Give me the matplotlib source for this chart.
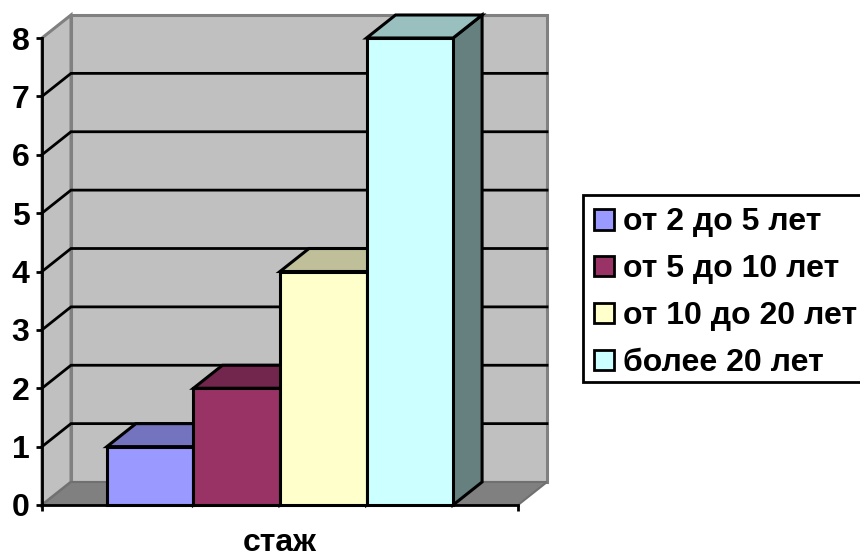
import matplotlib
matplotlib.use("Agg")
import matplotlib.pyplot as plt
from matplotlib.patches import Patch, Rectangle
from matplotlib.colors import to_rgb

plt.rcParams['font.family'] = ['Liberation Sans', 'DejaVu Sans']
plt.rcParams['font.weight'] = 'bold'

# data
names = ['от 2 до 5 лет', 'от 5 до 10 лет', 'от 10 до 20 лет', 'более 20 лет']
values = [1, 2, 4, 8]
colors = ['#9999FF', '#993366', '#FFFFCC', '#CCFFFF']
y_ticks = [0, 1, 2, 3, 4, 5, 6, 7, 8]
category = 'стаж'

W, H = 860, 552
fig = plt.figure(figsize=(W / 100, H / 100), dpi=100)
ax = fig.add_axes([42 / W, (H - 505) / H, 476 / W, 467 / H])
ax.set_xlim(0, 1)
ax.set_ylim(0, 8)

# depth of the fake 3d box, in data units
dx = 29 / 476
dy = 23 / 467 * 8
gap = 1.5
bw = 1 / (len(values) + gap)
start = gap / 2 * bw


def shade(c, k):
    return tuple(v * k for v in to_rgb(c))


def poly(xs, ys, fc, ec, lw, z):
    ax.fill(xs, ys, facecolor=fc, edgecolor=ec, linewidth=lw, zorder=z,
            clip_on=False, joinstyle='miter')


# walls and floor
poly([dx, 1 + dx, 1 + dx, dx], [dy, dy, 8 + dy, 8 + dy], '#C0C0C0', '#808080', 2.2, 1)
poly([0, dx, dx, 0], [0, dy, 8 + dy, 8], '#C0C0C0', '#808080', 2.2, 1)
poly([0, 1, 1 + dx, dx], [0, 0, dy, dy], '#808080', '#707070', 1.5, 1)

# gridlines
for v in y_ticks[1:-1]:
    ax.plot([0, dx, 1 + dx], [v, v + dy, v + dy], color='black', lw=2, zorder=2,
            clip_on=False, solid_joinstyle='miter')

# bars
for i, (val, c) in enumerate(zip(values, colors)):
    x0 = start + i * bw
    x1 = x0 + bw
    poly([x1, x1 + dx, x1 + dx, x1], [0, dy, val + dy, val], shade(c, 0.5), 'black', 2.2, 3)
    poly([x0, x1, x1 + dx, x0 + dx], [val, val, val + dy, val + dy], shade(c, 0.75), 'black', 2.2, 3)
    poly([x0, x1, x1, x0], [0, 0, val, val], c, 'black', 2.2, 3)

ax.patch.set_visible(False)
for s in ['top', 'right']:
    ax.spines[s].set_visible(False)
for s in ['left', 'bottom']:
    ax.spines[s].set_linewidth(2)
    ax.spines[s].set_zorder(5)
ax.set_yticks(y_ticks)
ax.set_xticks([0, 1])
ax.set_xticklabels(['', ''])
ax.tick_params(axis='both', length=4.5, width=2, direction='out')
ax.tick_params(axis='y', labelsize=23, pad=4.5)
ax.set_xlabel(category, fontsize=23, fontweight='bold', labelpad=8.5)

# legend frame drawn apart, the rows sit tighter than the legend's own box
fig.add_artist(Rectangle((583 / W, 1 - 382 / H), 290 / W, 187 / H, transform=fig.transFigure,
                         facecolor='white', edgecolor='black', linewidth=2))
handles = [Patch(facecolor=c, edgecolor='black', linewidth=2) for c in colors]
leg = fig.legend(handles, names, loc='upper left', bbox_to_anchor=(583 / W, 1 - 196.5 / H),
                 bbox_transform=fig.transFigure, borderaxespad=0, fontsize=23,
                 handlelength=0.625, handleheight=0.625, handletextpad=0.28,
                 labelspacing=0.53, borderpad=0.34, frameon=False)

fig.savefig('out.png', dpi=100)
